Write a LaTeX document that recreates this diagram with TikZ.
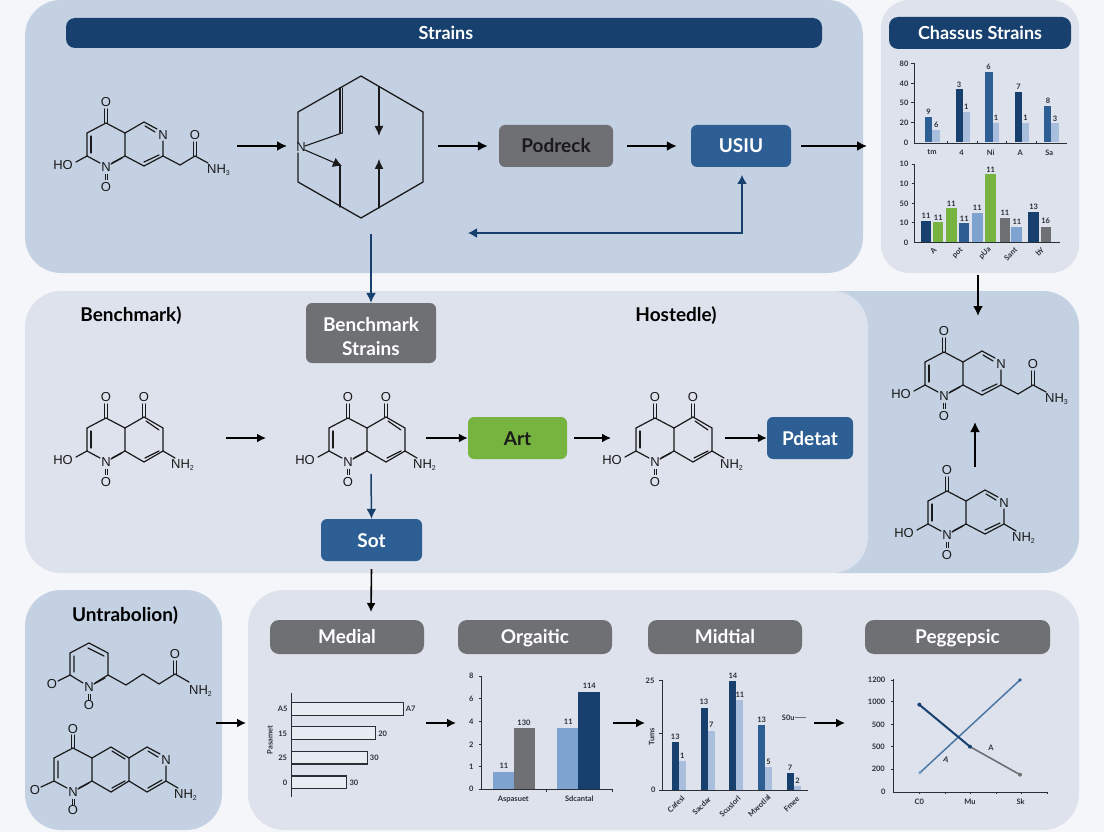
\documentclass[tikz,border=0pt]{standalone}
\usepackage{fontspec}
\setmainfont{Lato}
\newfontfamily\chemfont{Liberation Sans}
\usetikzlibrary{arrows.meta}
\definecolor{pagebg}{HTML}{F4F6F9}
\definecolor{panelblue}{HTML}{C3D1E3}
\definecolor{panelpale}{HTML}{DDE2EC}
\definecolor{navy}{HTML}{17406F}
\definecolor{midblue}{HTML}{2D5F94}
\definecolor{lightblue}{HTML}{7FA3D0}
\definecolor{paleblue}{HTML}{A9BEDC}
\definecolor{graybox}{HTML}{6E7074}
\definecolor{leaf}{HTML}{76B33F}
\definecolor{ink}{HTML}{1A1A1A}
\definecolor{axisink}{HTML}{2A2F36}
\tikzset{
  panel/.style={rounded corners=36pt,draw=none},
  bond/.style={line width=1.2pt,draw=ink,line cap=round},
  tick/.style={line width=.8pt,draw=ink},
  atom/.style={font=\chemfont\fontsize{13}{13}\selectfont,text=ink,inner sep=0pt},
  flow/.style={line width=1.9pt,draw=black,-{Latex[length=10pt,width=10pt]}},
  thinflow/.style={line width=1.6pt,draw=black,-{Latex[length=9pt,width=9pt]}},
  blueflow/.style={line width=1.5pt,draw=navy,-{Latex[length=10pt,width=10pt]}},
  stepbox/.style={rounded corners=6pt,minimum height=42pt,inner sep=0pt,font=\fontsize{19}{24}\selectfont\bfseries},
  stepone/.style={stepbox,text height=15pt,text depth=1pt},
  header/.style={rounded corners=9pt,inner sep=0pt,text height=16pt,text depth=3pt,font=\fontsize{18}{20}\selectfont\bfseries,text=white},
  subhead/.style={header,fill=graybox,minimum height=34pt,font=\fontsize{19}{20}\selectfont\bfseries},
  tag/.style={font=\fontsize{19}{20}\selectfont\bfseries,text=black,inner sep=0pt,text height=16pt,text depth=3pt},
  chartlab/.style={font=\fontsize{7.5}{8}\selectfont\bfseries,text=axisink,inner sep=0pt},
  axisline/.style={line width=.8pt,draw=axisink},
}
\newcounter{tl}
\newcommand{\tl}[4][]{\stepcounter{tl}\node[chartlab,#1] (tl\arabic{tl}) at (#2,#3) {#4};}
\newcommand{\barx}[5]{\fill[#5] (#1,#4) rectangle (#2,#3);}
\newcommand{\pyridone}{%
  \draw[bond] (-6,-4)--(-19,-11)--(-19,-34)--(0,-44)--(19,-34)--(19,-11)--(6,-4);
  \draw[bond] (-15,-14)--(-15,-31);
  \draw[bond] (5,-3)--(16,-9);
  \draw[bond] (-1.5,-44)--(-1.5,-58) (1.5,-44)--(1.5,-58);
  \draw[bond] (-19,-11)--(-30,-5);
  \draw[tick] (-1,7)--(-1,13) (1,7)--(1,13);
  \node[atom] at (0,0) {N};
  \node[atom] at (0,-65) {O};
  \node[atom] at (0,20) {O};
}
\newcommand{\pyridinering}{%
  \draw[bond] (19,-34)--(38,-45)--(51,-38);
  \draw[bond] (39,-41)--(49,-35);
  \draw[bond] (57,-26)--(57,-11)--(38,-1)--(19,-11);
  \draw[bond] (53,-12)--(38,-5);
  \node[atom] at (57,-32) {N};
}
\newcommand{\HOlabel}{\node[atom] at (-43,-2) {HO};}
\newcommand{\amide}{%
  \draw[bond] (57,-11)--(74,-2)--(89,-11)--(102,-4);
  \draw[bond] (87.5,-11)--(87.5,-25) (90.5,-11)--(90.5,-25);
  \node[atom] at (89,-32) {O};
  \node[atom,anchor=west] at (101,3) {NH\textsubscript{\fontsize{7}{7}\selectfont 3}};
}
\newcommand{\oxoring}{%
  \draw[bond] (19,-34)--(38,-45)--(57,-34)--(57,-11)--(38,0)--(19,-11);
  \draw[bond] (40,-41)--(53,-32);
  \draw[bond] (53,-11)--(39,-4);
  \draw[bond] (36.5,-45)--(36.5,-58) (39.5,-45)--(39.5,-58);
  \draw[bond] (57,-11)--(69,-4);
  \node[atom] at (38,-65) {O};
  \node[atom,anchor=west] at (65,3) {NH\textsubscript{\fontsize{7}{7}\selectfont 2}};
}
\begin{document}
\begin{tikzpicture}[x=1pt,y=-1pt]
\useasboundingbox (0,0) rectangle (1104,832);
\fill[pagebg] (0,0) rectangle (1104,832);
% panels
\fill[panelblue,panel] (25,0) rectangle (863,273);
\fill[panelpale,panel,rounded corners=28pt] (881,0) rectangle (1079,273);
\fill[panelblue,panel] (800,291) rectangle (1079,573);
\fill[panelpale,panel] (25,291) rectangle (868,573);
\fill[panelblue,panel] (25,590) rectangle (222,830);
\fill[panelpale,panel] (248,590) rectangle (1079,830);
% headers
\node[header,fill=navy,minimum width=756pt,minimum height=30pt] (strains) at (444,33) {\hspace{4pt}Strains};
\node[header,fill=navy,minimum width=182pt,minimum height=32pt] (chassis) at (980,33) {Chassus Strains};
% molecule 1
\begin{scope}[shift={(106,167)}]
\pyridone\pyridinering\amide\HOlabel
\end{scope}
% cage
\draw[bond,line width=1.3pt,line join=round] (298,143)--(298,112)--(340,88);
\draw[bond,line width=1.3pt,line join=round] (340,88)--(361,76)--(423,112)--(423,182)--(361,218)--(298,182)--(298,153);
\draw[bond,line width=1.1pt] (340,88)--(340,133) (342.5,88)--(342.5,133);
\draw[bond,line width=1.1pt] (305,146)--(342,133);
\draw[bond,line width=1.1pt] (340,207)--(340,165);
\draw[bond,line width=1.1pt,-{Latex[length=9pt,width=10pt]}] (305,150)--(342,166);
\draw[bond,line width=1.3pt,-{Latex[length=10pt,width=9pt]}] (379,87)--(379,136);
\draw[bond,line width=1.3pt,-{Latex[length=10pt,width=9pt]}] (379,208)--(379,159);
\node[atom] at (301,147) {N};
% row 1 nodes
\node[stepone,fill=graybox,text=ink,minimum width=114pt] (podreck) at (556,146) {Podreck};
\node[stepone,fill=midblue,text=white,minimum width=100pt] (usiu) at (741,146) {USIU};
\coordinate (m1out) at (237,146);
\coordinate (cagein) at (287,146);
\coordinate (cageout) at (438,146);
\coordinate (chartin) at (867,146);
\coordinate (returnend) at (468,233);
\coordinate (corner) at (742,233);
\draw[flow] (m1out)--(cagein);
\draw[flow] (cageout)--([xshift=-11pt]podreck.west);
\draw[flow] ([xshift=14pt]podreck.east)--([xshift=-14pt]usiu.west);
\draw[flow] ([xshift=10pt]usiu.east)--(chartin);
\draw[blueflow,{Latex[length=9pt,width=10pt]}-{Latex[length=9pt,width=10pt]}] (returnend)--(corner)--(742,175);
% row 2
\node[tag] (tagb) at (131,315) {Benchmark)};
\node[tag] (tagh) at (676,315) {Hostedle)};
\node[stepbox,fill=graybox,text=white,minimum width=130pt,minimum height=60pt,align=center] (bench) at (371,333) {\rule{0pt}{21pt}Benchmark\\Strains};
\coordinate (cagedown) at (371,234);
\draw[blueflow] (cagedown)--(bench.north);
\begin{scope}[shift={(106,462)}]\pyridone\oxoring\HOlabel\end{scope}
\begin{scope}[shift={(348,462)}]\pyridone\oxoring\HOlabel\end{scope}
\begin{scope}[shift={(655,462)}]\pyridone\oxoring\HOlabel\end{scope}
\node[stepone,fill=leaf,text=ink,minimum width=99pt] (art) at (517.5,438) {Art};
\node[stepone,fill=midblue,text=white,minimum width=86pt] (pdetat) at (810,438) {Pdetat};
\node[stepone,fill=midblue,text=white,minimum width=101pt] (sot) at (371.5,540) {Sot};
\coordinate (a1) at (226,438); \coordinate (a2) at (266,438);
\coordinate (a3) at (426,438); \coordinate (a5) at (574,438);
\coordinate (a6) at (611,438); \coordinate (a7) at (725,438);
\coordinate (molsot) at (371,474);
\draw[thinflow] (a1)--(a2);
\draw[thinflow] (a3)--(art.west);
\draw[thinflow] (a5)--(a6);
\draw[thinflow] (a7)--(pdetat.west);
\draw[blueflow] (molsot)--(sot.north);
% right column
\begin{scope}[shift={(944,396)}]\pyridone\pyridinering\amide\HOlabel\end{scope}
\begin{scope}[shift={(947,535)}]
\pyridone\pyridinering\HOlabel
\draw[bond] (57,-11)--(69,-4);
\node[atom,anchor=west] at (65,3) {NH\textsubscript{\fontsize{7}{7}\selectfont 2}};
\end{scope}
\coordinate (c1) at (978,275); \coordinate (c2) at (978,316);
\coordinate (c3) at (975,467); \coordinate (c4) at (975,422);
\draw[flow] (c1)--(c2);
\draw[flow] (c3)--(c4);
% bottom-left
\node[tag] (tagu) at (125,615) {Untrabolion)};
\begin{scope}[shift={(89,687)}]
\draw[bond] (-6,-4)--(-19,-12)--(-19,-34)--(0,-44)--(19,-34)--(19,-12)--(6,-4);
\draw[bond] (-15,-15)--(-15,-31) (-1,-39)--(15,-31) (5,-3)--(16,-9);
\draw[bond] (-19,-12)--(-31,-6);
\draw[tick] (-1,7)--(-1,13) (1,7)--(1,13);
\draw[bond] (19,-12)--(37,-2)--(54,-13)--(70,-3)--(86,-13)--(100,-5);
\draw[bond] (84.5,-13)--(84.5,-26) (87.5,-13)--(87.5,-26);
\node[atom] at (0,0) {N};
\node[atom] at (0,18) {O};
\node[atom] at (-37,-3) {O};
\node[atom] at (86,-33) {O};
\node[atom,anchor=west] at (100,4) {NH\textsubscript{\fontsize{7}{7}\selectfont 2}};
\end{scope}
\begin{scope}[shift={(73,792)}]
\draw[bond] (-6,-4)--(-19,-11)--(-19,-34)--(0,-44)--(19,-34)--(19,-11)--(6,-4);
\draw[bond] (-15,-14)--(-15,-31) (5,-3)--(16,-9);
\draw[bond] (-1.5,-44)--(-1.5,-57) (1.5,-44)--(1.5,-57);
\draw[bond] (-19,-11)--(-32,-5);
\draw[tick] (-1,7)--(-1,13) (1,7)--(1,13);
\draw[bond] (19,-34)--(38,-45)--(56,-34)--(56,-11)--(38,0)--(19,-11);
\draw[bond] (39,-41)--(52,-33) (52,-11)--(39,-4);
\draw[bond] (56,-34)--(74,-45)--(87,-38) (75,-41)--(85,-35);
\draw[bond] (93,-26)--(93,-11)--(74,0)--(56,-11) (89,-12)--(75,-4);
\draw[bond] (93,-11)--(105,-4);
\node[atom] at (0,0) {N};
\node[atom] at (0,-63) {O};
\node[atom] at (0,18) {O};
\node[atom] at (-38,-2) {O};
\node[atom] at (93,-32) {N};
\node[atom,anchor=west] at (101,3) {NH\textsubscript{\fontsize{7}{7}\selectfont 2}};
\end{scope}
\coordinate (u1) at (216,723); \coordinate (u2) at (246,723);
\draw[thinflow] (u1)--(u2);
% bottom headers
\node[subhead,minimum width=154pt] (h1) at (347,637) {Medial};
\node[subhead,minimum width=154pt] (h2) at (535,637) {Orgaitic};
\node[subhead,minimum width=154pt] (h3) at (725,637) {Midtial};
\node[subhead,minimum width=185pt] (h4) at (957.5,637) {Peggepsic};
\draw[thinflow] ([yshift=-8pt]sot.south)--(371,612);
\coordinate (g1) at (426,723); \coordinate (g2) at (456,723);
\coordinate (g3) at (613,723); \coordinate (g4) at (645,723);
\coordinate (g5) at (814,723); \coordinate (g6) at (845,723);
\draw[thinflow] (g1)--(g2);
\draw[thinflow] (g3)--(g4);
\draw[thinflow] (g5)--(g6);
% chassis chart top
\begin{scope}[shift={(880,50)},x=.3333pt,y=-.3333pt]
\barx{135}{157}{202}{277}{midblue}\barx{157}{180}{240}{277}{paleblue}
\barx{227}{248}{118}{277}{navy}\barx{248}{270}{185}{277}{paleblue}
\barx{315}{338}{65}{277}{midblue}\barx{338}{358}{218}{277}{paleblue}
\barx{404}{426}{127}{277}{navy}\barx{426}{447}{220}{277}{paleblue}
\barx{492}{514}{168}{277}{midblue}\barx{514}{536}{220}{277}{paleblue}
\draw[axisline] (103,40)--(103,279)--(560,279);
\foreach \t in {40,100,158,218}{\draw[axisline] (93,\t)--(103,\t);}
\foreach \t in {202,293,380,470}{\draw[axisline] (\t,273)--(\t,279);}
\tl{72}{40}{80}\tl{72}{100}{40}\tl{72}{158}{50}\tl{72}{218}{20}\tl{78}{277}{0}
\tl{146}{186}{9}\tl{169}{223}{6}\tl{237}{104}{3}\tl{259}{170}{1}\tl{326}{50}{6}\tl{348}{203}{1}\tl{416}{111}{7}\tl{437}{204}{1}\tl{504}{151}{8}\tl{525}{206}{3}
\tl{156}{307}{tm}\tl{245}{307}{4}\tl{332}{307}{Ni}\tl{421}{307}{A}\tl{508}{307}{Sa}
\end{scope}
% chassis chart bottom
\begin{scope}[shift={(880,50)},x=.3333pt,y=-.3333pt]
\barx{123}{153}{512}{577}{navy}\barx{158}{190}{517}{577}{leaf}
\barx{198}{230}{475}{577}{leaf}\barx{238}{268}{520}{577}{midblue}
\barx{277}{310}{490}{577}{lightblue}\barx{316}{347}{373}{577}{leaf}
\barx{360}{390}{505}{577}{graybox}\barx{394}{426}{532}{577}{lightblue}
\barx{445}{477}{487}{577}{navy}\barx{482}{512}{530}{577}{graybox}
\draw[axisline] (103,342)--(103,578)--(540,578);
\foreach \t in {342,400,460,518}{\draw[axisline] (95,\t)--(103,\t);}
\tl{72}{342}{10}\tl{72}{400}{10}\tl{72}{460}{50}\tl{72}{518}{10}\tl{78}{577}{0}
\tl{138}{498}{11}\tl{175}{502}{11}\tl{214}{460}{11}\tl{253}{505}{11}\tl{292}{474}{11}\tl{332}{358}{11}\tl{375}{488}{11}\tl{411}{516}{11}\tl{461}{470}{13}\tl{497}{514}{16}
\tl[rotate=45]{160}{603}{A}\tl[rotate=45]{233}{610}{pot}\tl[rotate=45]{315}{610}{pUa}\tl[rotate=45]{392}{612}{Sant}\tl[rotate=45]{480}{606}{bY}
\end{scope}
% horizontal bar chart
\begin{scope}[shift={(260,660)},x=.3333pt,y=-.3333pt]
\draw[axisline,line width=1.1pt,fill=panelpale!70!white] (94,128) rectangle (430,166);
\draw[axisline,line width=1.1pt,fill=panelpale!70!white] (94,200) rectangle (346,238);
\draw[axisline,line width=1.1pt,fill=panelpale!70!white] (94,275) rectangle (323,312);
\draw[axisline,line width=1.1pt,fill=panelpale!70!white] (94,348) rectangle (260,385);
\draw[axisline,line width=1.1pt] (94,100)--(94,412);
\tl{68}{147}{A5}\tl{68}{220}{15}\tl{68}{293}{25}\tl{75}{367}{0}
\tl{452}{147}{A7}\tl{368}{220}{20}\tl{343}{293}{30}\tl{282}{367}{30}
\tl[rotate=90]{30}{240}{Pasamet}
\end{scope}
% Orgaitic chart
\begin{scope}[shift={(460,665)},x=.3333pt,y=-.3333pt]
\barx{100}{162}{322}{373}{lightblue}\barx{162}{226}{190}{373}{graybox}
\barx{292}{355}{188}{373}{lightblue}\barx{355}{420}{80}{373}{navy}
\draw[axisline] (64,33)--(64,374)--(460,374);
\foreach \t in {33,100,170,238,305,372}{\draw[axisline] (56,\t)--(64,\t);}
\foreach \t in {260,458}{\draw[axisline] (\t,374)--(\t,380);}
\tl{34}{33}{8}\tl{34}{100}{6}\tl{34}{170}{4}\tl{34}{238}{2}\tl{34}{305}{1}\tl{34}{372}{0}
\tl{132}{303}{11}\tl{192}{172}{130}\tl{325}{170}{11}\tl{388}{62}{114}
\tl{160}{402}{Aspasuet}\tl{358}{402}{Sdcantal}
\end{scope}
% Midtial chart
\begin{scope}[shift={(630,660)},x=.3333pt,y=-.3333pt]
\barx{125}{147}{245}{390}{navy}\barx{147}{168}{302}{390}{paleblue}
\barx{212}{233}{144}{390}{navy}\barx{233}{255}{213}{390}{paleblue}
\barx{297}{319}{62}{390}{navy}\barx{319}{340}{120}{390}{paleblue}
\barx{383}{405}{195}{390}{midblue}\barx{405}{426}{320}{390}{paleblue}
\barx{470}{492}{338}{390}{navy}\barx{492}{512}{378}{390}{paleblue}
\draw[axisline] (98,62)--(98,391)--(535,391);
\foreach \t in {62,220,390}{\draw[axisline] (88,\t)--(98,\t);}
\tl{60}{62}{25}\tl{70}{390}{0}\tl[rotate=90]{65}{230}{Tums}
\tl{136}{230}{13}\tl{157}{288}{1}\tl{222}{126}{13}\tl{244}{195}{7}\tl{309}{46}{14}\tl{330}{103}{11}\tl{395}{178}{13}\tl{416}{305}{5}\tl{480}{322}{7}\tl{503}{363}{2}
\tl[rotate=45]{138}{432}{Cafesl}\tl[rotate=45]{215}{438}{Sacdar}\tl[rotate=45]{300}{440}{Scuslorl}\tl[rotate=45]{388}{438}{Mxrotlal}\tl[rotate=45]{485}{432}{Fmee}
\tl{475}{173}{S0u}
\draw[graybox,line width=.6pt] (495,173)--(528,173);
\end{scope}
% line chart
\begin{scope}[shift={(630,660)},x=.3333pt,y=-.3333pt]
\draw[axisline] (790,57)--(790,397)--(1255,397);
\foreach \t in {60,125,193,260,327}{\draw[axisline] (782,\t)--(790,\t);}
\foreach \t in {868,945,1020,1098,1175,1252}{\draw[axisline] (\t,397)--(\t,403);}
\draw[midblue!85!white,line width=1.5pt] (870,338)--(1170,60);
\draw[navy,line width=2pt] (868,134)--(1020,260);
\draw[graybox,line width=1.6pt] (1020,260)--(1170,344);
\fill[lightblue] (870,338) circle (5.5);
\fill[midblue] (1170,60) circle (5.5);
\fill[navy] (868,134) circle (6);
\fill[navy] (1020,260) circle (6);
\fill[graybox] (1170,344) circle (6);
\tl{740}{60}{1200}\tl{740}{125}{1000}\tl{745}{193}{500}\tl{745}{260}{500}\tl{745}{327}{200}\tl{760}{395}{0}
\tl{868}{425}{C0}\tl{1020}{425}{Mu}\tl{1172}{425}{Sk}
\tl{1083}{262}{A}\tl[rotate=-15]{948}{300}{A}
\end{scope}
\end{tikzpicture}
\end{document}
